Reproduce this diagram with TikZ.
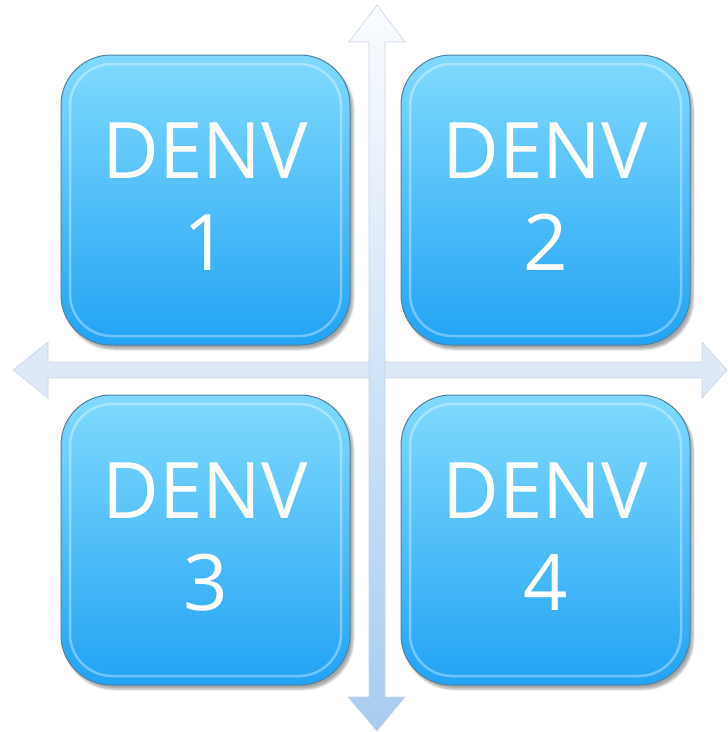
\documentclass[tikz,border=0pt]{standalone}
\usepackage{fontspec}
\setmainfont{Open Sans}
\usetikzlibrary{shadows.blur}
\definecolor{boxtop}{RGB}{128,218,253}
\definecolor{boxbot}{RGB}{34,163,244}
\definecolor{boxrim}{RGB}{80,130,160}
\definecolor{arrowtop}{RGB}{250,252,255}
\definecolor{arrowbot}{RGB}{168,204,240}
\definecolor{harrow}{RGB}{222,233,247}
\definecolor{arrowedge}{RGB}{200,212,228}
\tikzset{
  tile/.style={rounded corners=50pt, top color=boxtop, bottom color=boxbot,
    draw=boxrim, line width=1pt,
    blur shadow={shadow xshift=3pt, shadow yshift=-4pt, shadow blur steps=6, shadow opacity=35}},
  bevel/.style={rounded corners=42pt, draw=white, line width=2.5pt, opacity=0.35},
  label/.style={text=white, align=center, font=\fontsize{78}{92}\selectfont},
}
\begin{document}
\begin{tikzpicture}[x=1pt,y=-1pt]
\useasboundingbox (0,0) rectangle (728,732);
% horizontal double arrow
\filldraw[fill=harrow, draw=arrowedge, line width=0.6pt]
  (13,370) -- (48,342) -- (48,362) -- (702,362) -- (702,342) -- (727,370)
  -- (702,398) -- (702,378) -- (48,378) -- (48,398) -- cycle;
% vertical double arrow
\shade[top color=arrowtop, bottom color=arrowbot, draw=arrowedge, line width=0.6pt]
  (377,5) -- (405,42) -- (385,42) -- (385,697) -- (405,697) -- (377,731)
  -- (348,697) -- (369,697) -- (369,42) -- (349,42) -- cycle;
% the four tiles
\foreach \n/\x/\y in {1/61/55, 2/401/55, 3/61/395, 4/401/395}{
  \path[tile] (\x,\y) rectangle ++(289,290);
  \draw[bevel] (\x+9,\y+9) rectangle ++(271,272);
  \node[label] (t\n) at (\x+144.5,\y+142) {DENV\\\n};
}
\end{tikzpicture}
\end{document}
